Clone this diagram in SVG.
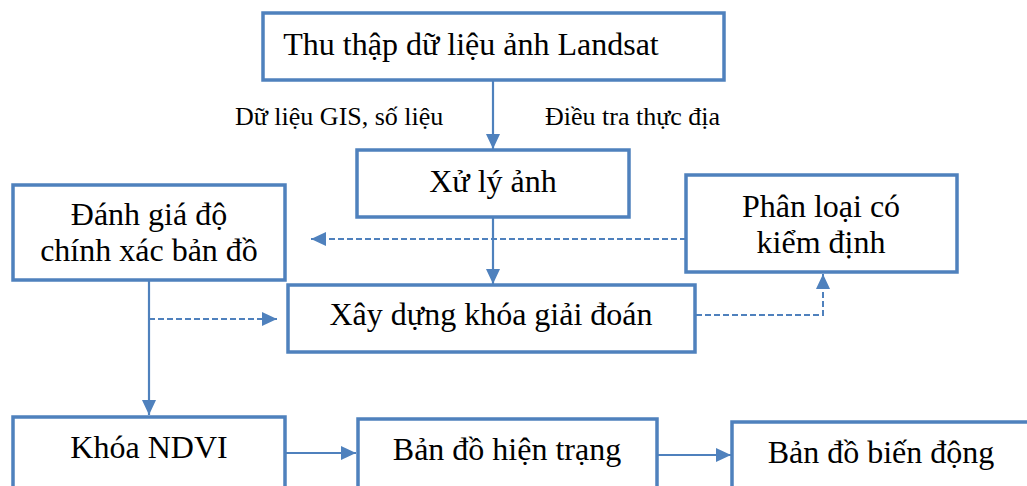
<svg xmlns="http://www.w3.org/2000/svg" width="1027" height="486" viewBox="0 0 1027 486">
<style>
.box{fill:#fff;stroke:#4F81BD;stroke-width:3.5}
.t{font-family:"Liberation Serif","Times New Roman",serif;font-size:32px;fill:#000;text-anchor:middle}
.lbl{font-family:"Liberation Serif","Times New Roman",serif;font-size:26px;fill:#000}
.c{fill:none;stroke:#4F81BD;stroke-width:2.2}
.d{fill:none;stroke:#4F81BD;stroke-width:2;stroke-dasharray:6 3}
</style>
<defs>
<marker id="ah" markerWidth="15" markerHeight="14" refX="15" refY="7" orient="auto" markerUnits="userSpaceOnUse">
<path d="M0,0 L15,7 L0,14 z" fill="#4F81BD"/>
</marker>
</defs>
<rect width="1027" height="486" fill="#fff"/>
<g id="connectors">
<path class="c" d="M493,81 V149" marker-end="url(#ah)"/>
<path class="c" d="M493,218 V284" marker-end="url(#ah)"/>
<path class="d" d="M686,239 H311" marker-end="url(#ah)"/>
<path class="c" d="M149,281 V415" marker-end="url(#ah)"/>
<path class="d" d="M149,319 H277" marker-end="url(#ah)"/>
<path class="d" d="M696,315 H823 V274" marker-end="url(#ah)"/>
<path class="c" d="M286,453 H356" marker-end="url(#ah)"/>
<path class="c" d="M658,455 H731" marker-end="url(#ah)"/>
</g>
<g id="n-thuthap">
<rect class="box" x="263" y="13" width="461" height="67"/>
<text class="t" x="471" y="55">Thu thập dữ liệu ảnh Landsat</text>
</g>
<g id="labels">
<text class="lbl" x="235" y="125">Dữ liệu GIS, số liệu</text>
<text class="lbl" x="545" y="125">Điều tra thực địa</text>
</g>
<g id="n-xuly">
<rect class="box" x="357" y="150" width="272" height="67"/>
<text class="t" x="493" y="192">Xử lý ảnh</text>
</g>
<g id="n-danhgia">
<rect class="box" x="13" y="185" width="272" height="95"/>
<text class="t" x="149" y="225">Đánh giá độ</text>
<text class="t" x="149" y="261">chính xác bản đồ</text>
</g>
<g id="n-phanloai">
<rect class="box" x="686" y="175" width="271" height="97"/>
<text class="t" x="821" y="217">Phân loại có</text>
<text class="t" x="821" y="253">kiểm định</text>
</g>
<g id="n-xaydung">
<rect class="box" x="288" y="285" width="407" height="67"/>
<text class="t" x="491" y="325">Xây dựng khóa giải đoán</text>
</g>
<g id="n-khoa">
<rect class="box" x="13" y="417" width="272" height="80"/>
<text class="t" x="149" y="458">Khóa NDVI</text>
</g>
<g id="n-hientrang">
<rect class="box" x="358" y="419" width="299" height="80"/>
<text class="t" x="507" y="460">Bản đồ hiện trạng</text>
</g>
<g id="n-biendong">
<rect class="box" x="732" y="422" width="310" height="80"/>
<text class="t" x="881" y="463">Bản đồ biến động</text>
</g>
</svg>
